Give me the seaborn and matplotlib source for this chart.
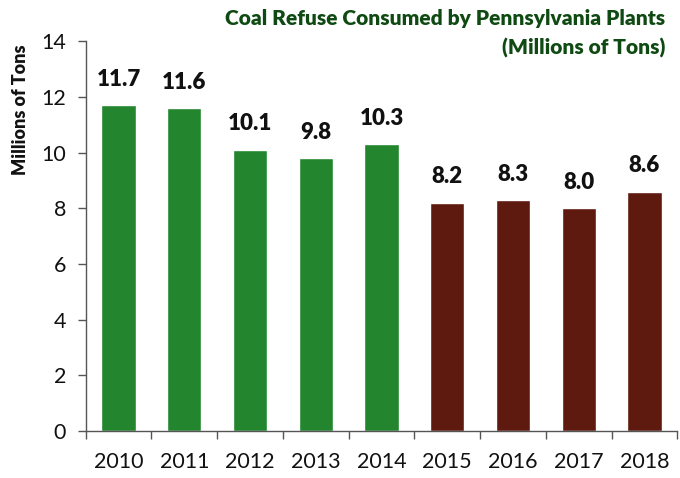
import matplotlib
matplotlib.use("Agg")
import matplotlib.pyplot as plt
import seaborn as sns
import pandas as pd
import numpy as np

years = ["2010", "2011", "2012", "2013", "2014", "2015", "2016", "2017", "2018"]
values = [11.7, 11.6, 10.1, 9.8, 10.3, 8.2, 8.3, 8.0, 8.6]
groups = ["early"] * 5 + ["late"] * 4
palette = {"early": "#23862f", "late": "#5e1a0e"}

sns.set_theme(style="white")
plt.rcParams['font.family'] = ['Lato', 'DejaVu Sans']

df = pd.DataFrame({"year": years, "value": values, "group": groups})

fig = plt.figure(figsize=(6.8, 4.78), dpi=100)
ax = fig.add_axes([0.126, 0.098, 0.870, 0.816])
sns.barplot(data=df, x="year", y="value", hue="group", palette=palette,
            dodge=False, width=0.52, legend=False, ax=ax, saturation=1)

ax.set_ylim(0, 14)
ax.set_xlim(-0.5, 8.5)
ax.set_yticks(np.arange(0, 15, 2))
ax.set_xlabel("")
ax.set_ylabel("Millions of Tons", fontsize=13, fontweight="heavy", color="#111111", labelpad=4)
ax.yaxis.set_label_coords(-0.095, 0.825)

for s in ["top", "right"]:
    ax.spines[s].set_visible(False)
for s in ["left", "bottom"]:
    ax.spines[s].set_color("#555555")
    ax.spines[s].set_linewidth(1.0)

ax.tick_params(axis="y", which="major", direction="out", length=6, width=1, color="#555555",
               labelsize=15.5, labelcolor="#111111", left=True, pad=8)
ax.tick_params(axis="x", which="major", length=0, labelsize=15.5, labelcolor="#111111", pad=15)
ax.set_xticks(np.arange(-0.5, 9.0, 1.0), minor=True)
ax.tick_params(axis="x", which="minor", direction="out", length=6, width=1, color="#555555", bottom=True)

for i, v in enumerate(values):
    ax.text(i, v + 0.55, f"{v:.1f}", ha="center", va="bottom", fontsize=16,
            fontweight="heavy", color="#111111")

fig.text(0.978, 0.982, "Coal Refuse Consumed by Pennsylvania Plants\n(Millions of Tons)",
         ha="right", va="top", fontsize=15, fontweight="heavy", color="#0f4a12",
         linespacing=1.65, multialignment="right")

fig.savefig("out.png", dpi=100)
